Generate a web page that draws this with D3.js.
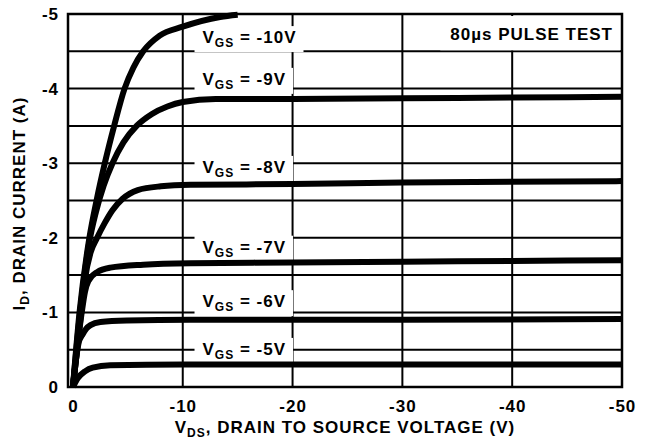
<!DOCTYPE html>
<html>
<head>
<meta charset="utf-8">
<script src="https://cdn.jsdelivr.net/npm/d3@7"></script>
<style>
  body { margin: 0; background: #fff; }
  svg text {
    font-family: "Liberation Sans", Arial, sans-serif;
    font-weight: bold;
    font-size: 17px;
    letter-spacing: 1px;
    fill: #000;
  }
</style>
</head>
<body>
<div class="chart-container"></div>
<script>
'use strict'
// Data: drain current (A) vs drain-source voltage (V), one array per gate voltage.
const vgsLabels = ['-5V', '-6V', '-7V', '-8V', '-9V', '-10V'];

const vgs5 = [[0, 0], [-0.45, -0.12], [-1.1, -0.21], [-1.8, -0.26], [-3.4, -0.29],
  [-10, -0.3], [-30, -0.3], [-50, -0.3]];
const vgs6 = [[0, 0], [-0.5, -0.58], [-0.9, -0.71], [-1.2, -0.78], [-1.6, -0.83],
  [-2.5, -0.87], [-4.9, -0.89], [-10.7, -0.9], [-30, -0.9], [-50, -0.91]];
const vgs7 = [[0, 0], [-0.8, -1.0], [-1.1, -1.28], [-1.4, -1.42], [-2.2, -1.54],
  [-3.4, -1.6], [-6.4, -1.64], [-10.7, -1.66], [-20, -1.67], [-30, -1.68],
  [-40, -1.69], [-50, -1.7]];
const vgs8 = [[0, 0], [-0.75, -1.0], [-1.1, -1.45], [-1.6, -1.8], [-2.2, -2.0],
  [-2.9, -2.2], [-3.6, -2.37], [-4.5, -2.52], [-5.9, -2.64], [-8, -2.69],
  [-10.7, -2.71], [-20, -2.72], [-30, -2.74], [-50, -2.76]];
const vgs9 = [[0, 0], [-0.65, -1.0], [-1.05, -1.5], [-1.5, -1.95], [-2.1, -2.35],
  [-2.8, -2.7], [-3.6, -3.0], [-4.6, -3.28], [-5.8, -3.5], [-7.2, -3.66],
  [-8.6, -3.76], [-10, -3.82], [-13, -3.86], [-20, -3.86], [-30, -3.87],
  [-40, -3.88], [-50, -3.89]];
const vgs10 = [[0, 0], [-0.6, -1.0], [-1.5, -2.0], [-2.15, -2.5], [-2.9, -3.0],
  [-3.75, -3.5], [-4.7, -4.0], [-5.5, -4.28], [-6.4, -4.5], [-7.9, -4.71],
  [-10, -4.83], [-13.4, -4.96], [-15, -4.99]];

const curves = [vgs5, vgs6, vgs7, vgs8, vgs9, vgs10];

// Label anchors (current level of each V_GS label, in A) and shared V_DS anchor.
const labelLevels = [-0.43, -1.07, -1.8, -2.87, -4.05, -4.61];
const labelVds = -11.8;

const xTicks = [0, -10, -20, -30, -40, -50];
const xTickLabels = ['0', '-10', '-20', '-30', '-40', '-50'];
const yTicks = [0, -1, -2, -3, -4, -5];
const yTickLabels = ['0', '-1', '-2', '-3', '-4', '-5'];
const xGrid = [-10, -20, -30, -40];
const yGrid = [-0.5, -1, -1.5, -2, -2.5, -3, -3.5, -4, -4.5];
const noteText = '80\u00b5s PULSE TEST';

function main() {
  const width = 647;
  const height = 446;
  const plot = {left: 68, right: 622, top: 14, bottom: 387};

  const xScale = d3.scaleLinear([0.45, -50], [plot.left, plot.right]);
  const yScale = d3.scaleLinear([0, -5], [plot.bottom, plot.top]);

  const svg = d3.select('.chart-container')
    .append('svg')
    .attr('width', width)
    .attr('height', height);

  // GRID
  const grid = svg.append('g').attr('stroke', '#000').attr('stroke-width', 2);
  grid.selectAll('.vgrid')
    .data(xGrid)
    .enter()
    .append('line')
    .attr('x1', d => xScale(d))
    .attr('x2', d => xScale(d))
    .attr('y1', plot.top)
    .attr('y2', plot.bottom);
  grid.selectAll('.hgrid')
    .data(yGrid)
    .enter()
    .append('line')
    .attr('x1', plot.left)
    .attr('x2', plot.right)
    .attr('y1', d => yScale(d))
    .attr('y2', d => yScale(d));

  // V_GS LABELS with white boxes breaking the grid
  const labels = svg.append('g');
  labelLevels.forEach((lv, i) => {
    const g = labels.append('g');
    const box = g.append('rect').attr('fill', '#fff');
    const t = g.append('text')
      .attr('x', xScale(labelVds))
      .attr('y', yScale(lv));
    t.append('tspan').text('V');
    t.append('tspan').text('GS').attr('dy', 4).style('font-size', '12px');
    t.append('tspan').text(' = ' + vgsLabels[i]).attr('dy', -4);
    const bb = t.node().getBBox();
    box.attr('x', bb.x - 8)
      .attr('y', bb.y - 2)
      .attr('width', bb.width + 15)
      .attr('height', bb.height + 4);
  });

  // NOTE
  const note = svg.append('g');
  const noteBox = note.append('rect').attr('fill', '#fff');
  const noteT = note.append('text')
    .attr('x', 613)
    .attr('y', 40)
    .attr('text-anchor', 'end')
    .text(noteText);
  const nb = noteT.node().getBBox();
  noteBox.attr('x', nb.x - 10)
    .attr('y', plot.top + 2)
    .attr('width', plot.right - nb.x + 8)
    .attr('height', yScale(-4.5) - plot.top - 3);

  // CURVES
  const line = d3.line()
    .x(d => xScale(d[0]))
    .y(d => yScale(d[1]))
    .curve(d3.curveMonotoneX);

  svg.append('g')
    .selectAll('.curve')
    .data(curves)
    .enter()
    .append('path')
    .attr('class', 'curve')
    .attr('d', line)
    .attr('fill', 'none')
    .attr('stroke', '#000')
    .attr('stroke-width', 6)
    .attr('stroke-linejoin', 'round');

  // FRAME
  svg.append('rect')
    .attr('x', plot.left)
    .attr('y', plot.top)
    .attr('width', plot.right - plot.left)
    .attr('height', plot.bottom - plot.top)
    .attr('fill', 'none')
    .attr('stroke', '#000')
    .attr('stroke-width', 2.5);

  // AXES
  const xAxis = d3.axisBottom(xScale)
    .tickValues(xTicks)
    .tickFormat((d, i) => xTickLabels[i])
    .tickSize(0)
    .tickPadding(13);
  const xAxisDraw = svg.append('g')
    .attr('transform', `translate(0, ${plot.bottom})`)
    .call(xAxis);
  xAxisDraw.select('.domain').remove();

  const yAxis = d3.axisLeft(yScale)
    .tickValues(yTicks)
    .tickFormat((d, i) => yTickLabels[i])
    .tickSize(0)
    .tickPadding(9);
  const yAxisDraw = svg.append('g')
    .attr('transform', `translate(${plot.left}, 0)`)
    .call(yAxis);
  yAxisDraw.select('.domain').remove();

  xAxisDraw.attr('font-size', null).attr('font-family', null);
  yAxisDraw.attr('font-size', null).attr('font-family', null);

  // AXIS TITLES
  const xTitle = svg.append('text')
    .attr('x', (plot.left + plot.right) / 2)
    .attr('y', 433)
    .attr('text-anchor', 'middle');
  xTitle.append('tspan').text('V');
  xTitle.append('tspan').text('DS').attr('dy', 4).style('font-size', '12px');
  xTitle.append('tspan').text(', DRAIN TO SOURCE VOLTAGE (V)').attr('dy', -4);

  const yTitle = svg.append('text')
    .attr('transform', `translate(25, ${(plot.top + plot.bottom) / 2 + 3}) rotate(-90)`)
    .attr('text-anchor', 'middle');
  yTitle.append('tspan').text('I');
  yTitle.append('tspan').text('D').attr('dy', 4).style('font-size', '12px');
  yTitle.append('tspan').text(', DRAIN CURRENT (A)').attr('dy', -4);
}

// START
main();
</script>
</body>
</html>
